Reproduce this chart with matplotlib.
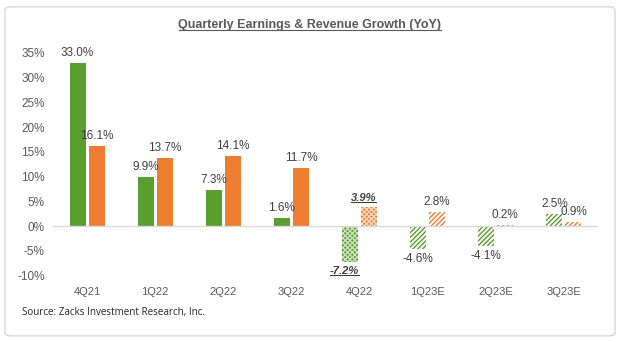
import matplotlib
matplotlib.use("Agg")
import matplotlib.pyplot as plt
from matplotlib.patches import FancyBboxPatch
import numpy as np

quarters = ["4Q21", "1Q22", "2Q22", "3Q22", "4Q22", "1Q23E", "2Q23E", "3Q23E"]
earnings = [33.0, 9.9, 7.3, 1.6, -7.2, -4.6, -4.1, 2.5]
revenue = [16.1, 13.7, 14.1, 11.7, 3.9, 2.8, 0.2, 0.9]
# bar style per quarter: actual, current quarter (dotted), estimate (striped)
kinds = ["actual", "actual", "actual", "actual", "current", "estimate", "estimate", "estimate"]
yticks = [-10, -5, 0, 5, 10, 15, 20, 25, 30, 35]

GREEN = "#5A9E2F"
ORANGE = "#ED7D31"
TEXT = "#404040"

plt.rcParams["font.family"] = ["Liberation Sans", "DejaVu Sans"]
plt.rcParams["hatch.linewidth"] = 1.0

fig = plt.figure(figsize=(6.2, 3.42), dpi=100)
fig.patch.set_facecolor("white")

# rounded frame around the whole chart
frame = FancyBboxPatch((0.008, 0.018), 0.984, 0.962, boxstyle="round,pad=0,rounding_size=0.01",
                       transform=fig.transFigure, fill=False, edgecolor="#D9D9D9", linewidth=1.0)
fig.patches.append(frame)

ax = fig.add_axes([53 / 620, 0.1939, (598 - 53) / 620, 0.8459 - 0.1939])
x = np.arange(len(quarters))
w = 0.235
off = 0.14

def draw_bar(xc, val, color, kind):
    if kind == "actual":
        ax.bar(xc, val, w, color=color, linewidth=0)
    elif kind == "current":
        ax.bar(xc, val, w, facecolor=color, edgecolor="#FFFFFFB0", hatch="xxxxxxx", linewidth=0)
    else:
        ax.bar(xc, val, w, facecolor="white", edgecolor=color, hatch="///////", linewidth=0)

for i in range(len(quarters)):
    draw_bar(x[i] - off, earnings[i], GREEN, kinds[i])
    draw_bar(x[i] + off, revenue[i], ORANGE, kinds[i])

FS = 8.5
underlined = []
for i in range(len(quarters)):
    for xc, val in ((x[i] - off, earnings[i]), (x[i] + off, revenue[i])):
        if val >= 0:
            y, va = val + 0.8, "bottom"
        else:
            y, va = val - 0.8, "top"
        txt = f"{val:.1f}%"
        if kinds[i] == "current":
            t = ax.text(xc - 0.08, y, txt, ha="center", va=va, fontsize=FS - 0.5, color=TEXT,
                        fontweight="bold", fontstyle="italic")
            underlined.append(t)
        else:
            ax.text(xc, y, txt, ha="center", va=va, fontsize=FS, color=TEXT)

ax.axhline(0, color="#D9D9D9", linewidth=1.0)
ax.set_xlim(-0.5, len(quarters) - 0.5)
ax.set_ylim(-10, 35)
ax.set_yticks(yticks)
ax.set_yticklabels([f"{t}%" for t in yticks], fontsize=FS, color="#595959")
ax.set_xticks(x)
ax.set_xticklabels(quarters, fontsize=FS - 0.5, color="#595959")
ax.tick_params(axis="both", length=0)
ax.tick_params(axis="x", pad=8)
ax.tick_params(axis="y", pad=6)
for s in ax.spines.values():
    s.set_visible(False)

title = fig.text(0.5, 0.927, "Quarterly Earnings & Revenue Growth (YoY)", ha="center", va="center",
                 fontsize=9, fontweight="bold", color="#595959")
underlined.append(title)

fig.text(22 / 620, 1 - 313 / 342, "Source: Zacks Investment Research, Inc.", ha="left", va="center",
         fontsize=7.1, color="#262626", family=["Open Sans", "DejaVu Sans"])

# underline selected texts using their rendered extents
fig.canvas.draw()
renderer = fig.canvas.get_renderer()
inv = fig.transFigure.inverted()
for t in underlined:
    bb = t.get_window_extent(renderer)
    (x0, y0), (x1, y1) = inv.transform([[bb.x0, bb.y0], [bb.x1, bb.y1]])
    yl = y0 + (y1 - y0) * 0.12
    fig.add_artist(plt.Line2D([x0, x1], [yl, yl], transform=fig.transFigure,
                              color=t.get_color(), linewidth=0.8))

fig.savefig("out.png", dpi=100, facecolor="white")
